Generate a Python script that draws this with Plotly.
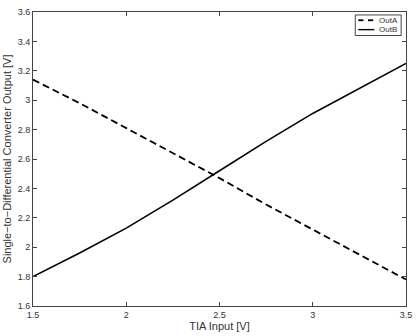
import plotly.graph_objects as go

tia_input = [1.5, 1.75, 2.0, 2.25, 2.5, 2.75, 3.0, 3.25, 3.5]
out_a = [3.14, 2.98, 2.81, 2.64, 2.47, 2.29, 2.12, 1.95, 1.78]
out_b = [1.80, 1.96, 2.13, 2.32, 2.52, 2.72, 2.91, 3.08, 3.25]
series_names = ["OutA", "OutB"]

x_ticks = [1.5, 2, 2.5, 3, 3.5]
x_tick_labels = ["1.5", "2", "2.5", "3", "3.5"]
y_ticks = [1.6, 1.8, 2, 2.2, 2.4, 2.6, 2.8, 3, 3.2, 3.4, 3.6]
y_tick_labels = ["1.6", "1.8", "2", "2.2", "2.4", "2.6", "2.8", "3", "3.2", "3.4", "3.6"]

FAM = "Liberation Sans, Arial, sans-serif"
DASH = "7px,4px"

fig = go.Figure()
fig.add_trace(go.Scatter(x=tia_input, y=out_a, mode="lines", name=series_names[0],
                         line=dict(color="black", width=1.8, dash=DASH)))
fig.add_trace(go.Scatter(x=tia_input, y=out_b, mode="lines", name=series_names[1],
                         line=dict(color="black", width=1.6)))

font = dict(family=FAM, size=9, color="#333")
axis_common = dict(showgrid=False, zeroline=False, showline=True, linecolor="#444",
                   linewidth=1, mirror="ticks", ticks="inside", ticklen=4,
                   tickcolor="#444", tickfont=font)

# compact MATLAB-style legend drawn in paper coordinates
shapes = [
    dict(type="rect", xref="paper", yref="paper", x0=0.864, x1=0.987, y0=0.92, y1=0.99,
         line=dict(color="#444", width=1), fillcolor="white", layer="above"),
    dict(type="line", xref="paper", yref="paper", x0=0.872, x1=0.886, y0=0.972, y1=0.972,
         line=dict(color="black", width=1.8), layer="above"),
    dict(type="line", xref="paper", yref="paper", x0=0.898, x1=0.912, y0=0.972, y1=0.972,
         line=dict(color="black", width=1.8), layer="above"),
    dict(type="line", xref="paper", yref="paper", x0=0.872, x1=0.915, y0=0.94, y1=0.94,
         line=dict(color="black", width=1.4), layer="above"),
]
annotations = [
    dict(xref="paper", yref="paper", x=0.922, y=0.972, text=series_names[0], showarrow=False,
         xanchor="left", yanchor="middle", font=dict(family=FAM, size=8, color="#333")),
    dict(xref="paper", yref="paper", x=0.922, y=0.94, text=series_names[1], showarrow=False,
         xanchor="left", yanchor="middle", font=dict(family=FAM, size=8, color="#333")),
]

fig.update_layout(
    width=419, height=336,
    margin=dict(l=29, r=7, t=10, b=26),
    paper_bgcolor="white", plot_bgcolor="white",
    showlegend=False,
    shapes=shapes, annotations=annotations,
    xaxis=dict(range=[1.5, 3.5], tickvals=x_ticks, ticktext=x_tick_labels,
               title=dict(text="TIA Input [V]", standoff=2,
                          font=dict(family=FAM, size=11, color="#333")),
               **axis_common),
    yaxis=dict(range=[1.6, 3.6], tickvals=y_ticks, ticktext=y_tick_labels,
               title=dict(text="Single\u2212to\u2212Differential Converter Output [V]", standoff=3,
                          font=dict(family=FAM, size=11, color="#333")),
               **axis_common),
)

fig.write_html("out.html")
